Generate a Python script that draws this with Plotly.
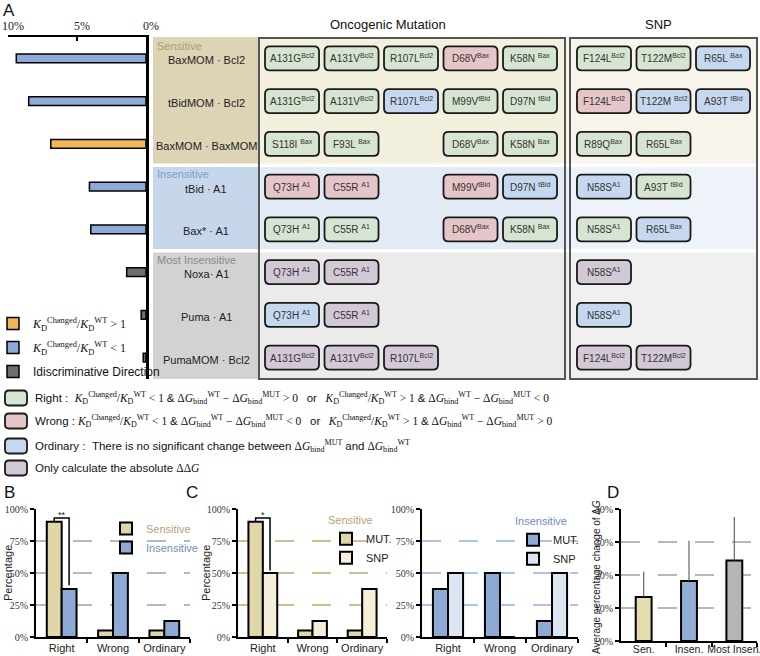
import plotly.graph_objects as go

W, H = 760, 656
SANS = "Liberation Sans, Arial"
SERIF = "Liberation Serif, Times New Roman"

# ---------------- panel A data ----------------
complexes = ["BaxMOM · Bcl2", "tBidMOM · Bcl2", "BaxMOM · BaxMOM", "tBid · A1",
             "Bax* · A1", "Noxa· A1", "Puma · A1", "PumaMOM · Bcl2"]
kd_change = [9.4, 8.5, 6.9, 4.1, 4.0, 1.4, 0.35, 0.2]          # percent
kd_direction = ["down", "down", "up", "down", "down", "none", "none", "none"]
groups = [("Sensitive", 0, 2), ("Insensitive", 3, 4), ("Most Insensitive", 5, 7)]

onco_labels = [
    ["A131G|Bcl2", "A131V|Bcl2", "R107L|Bcl2", "D68V|Bax", "K58N |Bax"],
    ["A131G|Bcl2", "A131V|Bcl2", "R107L|Bcl2", "M99V|tBid", "D97N |tBid"],
    ["S118I |Bax", "F93L |Bax", None, "D68V|Bax", "K58N |Bax"],
    ["Q73H |A1", "C55R |A1", None, "M99V|tBid", "D97N |tBid"],
    ["Q73H |A1", "C55R |A1", None, "D68V|Bax", "K58N |Bax"],
    ["Q73H |A1", "C55R |A1", None, None, None],
    ["Q73H |A1", "C55R |A1", None, None, None],
    ["A131G|Bcl2", "A131V|Bcl2", "R107L|Bcl2", None, None],
]
onco_class = [
    ["Right", "Right", "Right", "Wrong", "Right"],
    ["Right", "Right", "Ordinary", "Right", "Right"],
    ["Right", "Right", None, "Right", "Right"],
    ["Wrong", "Wrong", None, "Wrong", "Ordinary"],
    ["Right", "Right", None, "Wrong", "Right"],
    ["Only", "Only", None, None, None],
    ["Ordinary", "Only", None, None, None],
    ["Only", "Only", "Only", None, None],
]
snp_labels = [
    ["F124L|Bcl2", "T122M|Bcl2", "R65L |Bax"],
    ["F124L|Bcl2", "T122M |Bcl2", "A93T |tBid"],
    ["R89Q|Bax", "R65L|Bax", None],
    ["N58S|A1", "A93T |tBid", None],
    ["N58S|A1", "R65L|Bax", None],
    ["N58S|A1", None, None],
    ["N58S|A1", None, None],
    ["F124L|Bcl2", "T122M|Bcl2", None],
]
snp_class = [
    ["Right", "Right", "Ordinary"],
    ["Wrong", "Ordinary", "Ordinary"],
    ["Right", "Right", None],
    ["Ordinary", "Right", None],
    ["Right", "Ordinary", None],
    ["Only", None, None],
    ["Ordinary", None, None],
    ["Only", "Only", None],
]

# ---------------- panels B-D data ----------------
outcomes = ["Right", "Wrong", "Ordinary"]
b_sensitive = [90, 5, 5]
b_insensitive = [37.5, 50, 12.5]
c_sen_mut = [90, 5, 5]
c_sen_snp = [50, 12.5, 37.5]
c_ins_mut = [37.5, 50, 12.5]
c_ins_snp = [50, 0, 50]
d_cats = ["Sen.", "Insen.", "Most Insen."]
d_mean = [13.3, 18.2, 24.4]
d_err = [7.7, 12.2, 13.2]
pct_ticks = [0, 25, 50, 75, 100]
d_ticks = [0, 10, 20, 30, 40]

# ---------------- colours ----------------
ORANGE, BLUE, DGRAY = "#f2b65a", "#8eaad6", "#6e6e6e"
TAN, PALE_TAN = "#e0d6a8", "#f4efd6"
MBLUE, PALE_BLUE = "#8eaad4", "#dce6f2"
CHIP = {"Right": "#d5e5d1", "Wrong": "#e6c5c8", "Ordinary": "#c6d8ef", "Only": "#d3c8d6"}
BAND = {
    "Sensitive": ("#ddd4b5", "#f4f0de", "#f8f6ec", "#ab9d73"),
    "Insensitive": ("#c7d7eb", "#e2eaf5", "#eef3f9", "#7f9bc9"),
    "Most Insensitive": ("#d2d2d2", "#ebebeb", "#f0f0f0", "#8a8a8a"),
}


def px(x):
    return x / W


def py(y):
    return 1 - y / H


def rrect(cx, cy, hw, hh, rx, ry, fx=lambda v: v, fy=lambda v: v):
    x0, x1, y0, y1 = cx - hw, cx + hw, cy - hh, cy + hh
    pts = [("M", x0 + rx, y0), ("L", x1 - rx, y0), ("Q", x1, y0), ("", x1, y0 + ry),
           ("L", x1, y1 - ry), ("Q", x1, y1), ("", x1 - rx, y1), ("L", x0 + rx, y1),
           ("Q", x0, y1), ("", x0, y1 - ry), ("L", x0, y0 + ry), ("Q", x0, y0), ("", x0 + rx, y0)]
    return " ".join(f"{c}{fx(a):.5f},{fy(b):.5f}" for c, a, b in pts) + " Z"


def sans(t):
    return f'<span style="font-family:Liberation Sans">{t}</span>'


def note(x, y, text, xref="paper", yref="paper", xanchor="center", yanchor="middle", **kw):
    return dict(x=x, y=y, xref=xref, yref=yref, text=text, showarrow=False,
                xanchor=xanchor, yanchor=yanchor, **kw)


KD = "<i>K</i><sub>D</sub><sup>Changed</sup>/<i>K</i><sub>D</sub><sup>WT</sup>"
GWT = "Δ<i>G</i><sub>bind</sub><sup>WT</sup>"
GMUT = "Δ<i>G</i><sub>bind</sub><sup>MUT</sup>"
SP = "\u00a0"

fig = go.Figure()

# ---------------- A: bars ----------------
for key, name, color in [("up", f"{KD} &gt; 1", ORANGE),
                         ("down", f"{KD} &lt; 1", BLUE),
                         ("none", sans("Idiscriminative Direction"), DGRAY)]:
    idx = [i for i, d in enumerate(kd_direction) if d == key]
    fig.add_trace(go.Bar(
        x=[kd_change[i] for i in idx], y=idx, orientation="h", width=0.2,
        marker=dict(color=color, line=dict(color="black", width=1.5)),
        name=name, legend="legend4", legendgroup=key, xaxis="x", yaxis="y",
    ))

shapes, annos = [], []

# row bands
for gname, start, end in groups:
    lab, onco_bg, snp_bg, tcol = BAND[gname]
    y0 = start - 0.5 + (0.04 if start > 0 else 0)
    y1 = end + 0.5 - (0.04 if end < 7 else 0)
    for xa, xb, col in [(px(153), px(258), lab), (px(258), px(567), onco_bg), (px(567), px(758), snp_bg)]:
        shapes.append(dict(type="rect", xref="paper", yref="y", x0=xa, x1=xb, y0=y0, y1=y1,
                           fillcolor=col, line=dict(width=0), layer="below"))
    annos.append(note(px(155), start - 0.5, gname, yref="y", xanchor="left", yanchor="top",
                      yshift=-1, font=dict(size=11, color=tcol)))

for i, c in enumerate(complexes):
    annos.append(note(px(206), i, c, yref="y", yshift=-2, font=dict(size=11, color="#222")))

# boxes
for xa, xb in [(259, 565), (570, 757)]:
    shapes.append(dict(type="rect", xref="paper", yref="paper", x0=px(xa), x1=px(xb),
                       y0=py(379), y1=py(38), line=dict(color="#555", width=2), layer="above"))
annos.append(note(px(388), py(24), "Oncogenic Mutation", font=dict(size=13, color="#111")))
annos.append(note(px(658), py(24), "SNP", font=dict(size=13, color="#111")))

# chips
HW, HH, RX, RY = 0.454, 0.281, 0.084, 0.117
for xref, labels, classes in [("x2", onco_labels, onco_class), ("x3", snp_labels, snp_class)]:
    for r, row in enumerate(labels):
        for c, lab in enumerate(row):
            if lab is None:
                continue
            base, sup = lab.split("|")
            shapes.append(dict(type="path", xref=xref, yref="y", path=rrect(c, r, HW, HH, RX, RY),
                               fillcolor=CHIP[classes[r][c]], line=dict(color="#1a1a1a", width=1.8),
                               layer="above"))
            annos.append(note(c, r, f"{base}<sup>{sup}</sup>", xref=xref, yref="y",
                              font=dict(size=10, color="#333")))

# class legend
class_text = [
    ("Right", 398, f"{sans('Right :' + SP * 2)}{KD} &lt; 1 {sans('&amp;')} {GWT} − {GMUT} &gt; 0"
                   f"{SP * 3}{sans('or')}{SP * 3}{KD} &gt; 1 {sans('&amp;')} {GWT} − {GMUT} &lt; 0"),
    ("Wrong", 421, f"{sans('Wrong :')}{SP}{KD} &lt; 1 {sans('&amp;')} {GWT} − {GMUT} &lt; 0"
                   f"{SP * 3}{sans('or')}{SP * 3}{KD} &gt; 1 {sans('&amp;')} {GWT} − {GMUT} &gt; 0"),
    ("Ordinary", 446, f"{sans('Ordinary :' + SP * 2 + 'There is no significant change between ')}"
                      f"{GMUT} {sans('and')} {GWT}"),
    ("Only", 468, f"{sans('Only calculate the absolute ')}ΔΔ<i>G</i>"),
]
for cls, yc, txt in class_text:
    shapes.append(dict(type="path", xref="paper", yref="paper",
                       path=rrect(16, yc, 11, 7.5, 4, 4, px, py),
                       fillcolor=CHIP[cls], line=dict(color="#1a1a1a", width=1.8)))
    annos.append(note(px(33), py(yc), txt, xanchor="left",
                      font=dict(family=SERIF, size=11.5, color="#111")))

# ---------------- B ----------------
BW = 0.29
fig.add_trace(go.Bar(x=[0, 1, 2], y=b_sensitive, width=BW, offset=-BW, xaxis="x4", yaxis="y4",
                     marker=dict(color=TAN, line=dict(color="black", width=2)),
                     name='<span style="color:#b3a378">Sensitive</span>', legend="legend"))
fig.add_trace(go.Bar(x=[0, 1, 2], y=b_insensitive, width=BW, offset=0, xaxis="x4", yaxis="y4",
                     marker=dict(color=MBLUE, line=dict(color="black", width=2)),
                     name='<span style="color:#6f8dc3">Insensitive</span>', legend="legend"))
fig.add_trace(go.Scatter(x=[-BW / 2, -BW / 2, BW / 2, BW / 2],
                         y=[b_sensitive[0], 93, 93, b_insensitive[0] + 3],
                         mode="lines", line=dict(color="black", width=1.5), showlegend=False,
                         xaxis="x4", yaxis="y4"))
annos.append(note(0, 93, "**", xref="x4", yref="y4", yanchor="bottom", yshift=-4, font=dict(size=9)))

# ---------------- C ----------------
fig.add_trace(go.Bar(x=[0, 1, 2], y=c_sen_mut, width=BW, offset=-BW, xaxis="x5", yaxis="y5",
                     marker=dict(color=TAN, line=dict(color="black", width=2)),
                     name="MUT.", legend="legend2"))
fig.add_trace(go.Bar(x=[0, 1, 2], y=c_sen_snp, width=BW, offset=0, xaxis="x5", yaxis="y5",
                     marker=dict(color=PALE_TAN, line=dict(color="black", width=2)),
                     name="SNP", legend="legend2"))
fig.add_trace(go.Scatter(x=[-BW / 2, -BW / 2, BW / 2, BW / 2],
                         y=[c_sen_mut[0], 93, 93, c_sen_snp[0] + 2],
                         mode="lines", line=dict(color="black", width=1.5), showlegend=False,
                         xaxis="x5", yaxis="y5"))
annos.append(note(0, 93, "*", xref="x5", yref="y5", yanchor="bottom", yshift=-4, font=dict(size=9)))
fig.add_trace(go.Bar(x=[0, 1, 2], y=c_ins_mut, width=BW, offset=-BW, xaxis="x6", yaxis="y6",
                     marker=dict(color=MBLUE, line=dict(color="black", width=2)),
                     name="MUT.", legend="legend3"))
fig.add_trace(go.Bar(x=[0, 1, 2], y=c_ins_snp, width=BW, offset=0, xaxis="x6", yaxis="y6",
                     marker=dict(color=PALE_BLUE, line=dict(color="black", width=2)),
                     name="SNP", legend="legend3"))

# ---------------- D ----------------
fig.add_trace(go.Bar(x=[0, 1, 2], y=d_mean, width=0.35, xaxis="x7", yaxis="y7", showlegend=False,
                     marker=dict(color=["#e4dcaf", "#93afd6", "#b5b5b5"], line=dict(color="black", width=2)),
                     error_y=dict(type="data", symmetric=False, array=d_err, arrayminus=[0, 0, 0],
                                  color="#666", thickness=1.2, width=0)))

# panel letters and y titles
for t, x, y in [("A", 9, 11), ("B", 9, 493), ("C", 192, 493), ("D", 613, 493)]:
    annos.append(note(px(x), py(y), t, font=dict(size=17, color="#111")))
for t, x, y, s in [("Percentage", 8, 573, 11), ("Percentage", 206, 573, 11),
                   ("Average percentage change of Δ<i>G</i>", 596, 577, 10)]:
    annos.append(note(px(x), py(y), t, textangle=-90, font=dict(size=s, color="#222")))


# ---------------- axes ----------------
def cat_x(domain, labels, size=11, standoff=0):
    return dict(domain=domain, range=[-0.5, 2.5], tickmode="array", tickvals=[0, 1, 2],
                ticktext=labels, ticks="", showline=True, linecolor="black", linewidth=2,
                showgrid=False, zeroline=False, tickangle=0, automargin=False,
                ticklabeloverflow="allow", ticklabelstandoff=standoff,
                tickfont=dict(size=size, color="#222"),
                minor=dict(tickmode="array", tickvals=[0.5, 1.5, 2.5], ticks="outside",
                           ticklen=4, tickwidth=2, tickcolor="black"))


def pct_y(domain, gridcolor, rng=(0, 100), ticks=pct_ticks):
    return dict(domain=domain, range=list(rng), tickmode="array", tickvals=ticks,
                ticktext=[f"{v}%" for v in ticks],
                showline=True, linecolor="black", linewidth=2, ticks="outside", ticklen=4,
                tickwidth=2, tickcolor="black", showgrid=True, gridcolor=gridcolor, gridwidth=2,
                griddash="19px,18px", zeroline=False, automargin=False, ticklabeloverflow="allow",
                tickfont=dict(family=SERIF, size=10, color="#333"))


YB = [py(637), py(509)]
fig.update_layout(
    width=W, height=H, margin=dict(l=0, r=0, t=0, b=0, autoexpand=False),
    paper_bgcolor="white", plot_bgcolor="rgba(0,0,0,0)",
    font=dict(family=SANS, size=11, color="#222"),
    barmode="overlay", hovermode=False,
    xaxis=dict(domain=[px(8), px(146)], range=[10, 0], side="top", anchor="y",
               tickmode="array", tickvals=[10, 5, 0], ticktext=["10%", "5%", "0%"],
               ticks="inside", ticklen=4, tickwidth=1.5, tickcolor="black", automargin=False,
               ticklabelshift=-5, ticklabeloverflow="allow",
               showline=True, linecolor="black", linewidth=2, showgrid=False, zeroline=False,
               tickfont=dict(family=SERIF, size=12, color="#222")),
    yaxis=dict(domain=[py(379), py(37)], range=[7.5, -0.5], side="right", anchor="x",
               showline=True, linecolor="black", linewidth=2.5, showticklabels=False,
               ticks="", showgrid=False, zeroline=False, automargin=False),
    xaxis2=dict(domain=[px(259), px(565)], range=[-0.555, 4.588], anchor="y", visible=False),
    xaxis3=dict(domain=[px(570), px(757)], range=[-0.571, 2.571], anchor="y", visible=False),
    xaxis4=dict(anchor="y4", **cat_x([px(36), px(190)], outcomes)),
    yaxis4=dict(anchor="x4", **pct_y(YB, "#b8b8b8")),
    xaxis5=dict(anchor="y5", **cat_x([px(238), px(387)], outcomes)),
    yaxis5=dict(anchor="x5", **pct_y(YB, "#cdbf90")),
    xaxis6=dict(anchor="y6", **cat_x([px(422), px(578)], outcomes)),
    yaxis6=dict(anchor="x6", **pct_y(YB, "#adc3df")),
    xaxis7=dict(anchor="y7", **cat_x([px(621), px(757)], d_cats, 10.5, -3)),
    yaxis7=dict(anchor="x7", **pct_y([py(641), py(509)], "#b8b8b8", (0, 40), d_ticks)),
    legend=dict(x=px(106), y=py(514), xanchor="left", yanchor="top", bgcolor="rgba(0,0,0,0)",
                font=dict(size=11)),
    legend2=dict(x=px(326), y=py(510), xanchor="left", yanchor="top", bgcolor="rgba(0,0,0,0)",
                 title=dict(text="Sensitive", font=dict(size=11, color="#b3a378")),
                 font=dict(size=11)),
    legend3=dict(x=px(513), y=py(511), xanchor="left", yanchor="top", bgcolor="rgba(0,0,0,0)",
                 title=dict(text="Insensitive", font=dict(size=11, color="#6f8dc3")),
                 font=dict(size=11)),
    legend4=dict(x=px(-7), y=py(309), xanchor="left", yanchor="top", bgcolor="rgba(0,0,0,0)",
                 traceorder="grouped", tracegroupgap=5,
                 font=dict(family=SERIF, size=12, color="#111")),
    shapes=shapes, annotations=annos,
)

# the page body has a default 8px margin; drop it so the figure fills the window
fig.write_html("out.html", config={"displayModeBar": False},
               post_script="document.body.style.margin='0';")
